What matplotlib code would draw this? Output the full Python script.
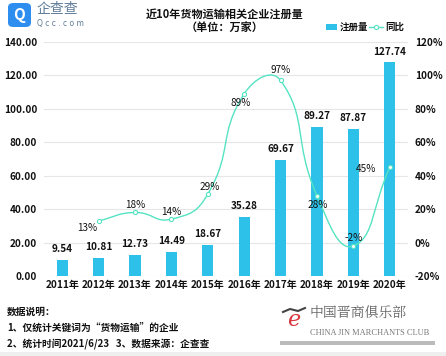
import matplotlib
matplotlib.use("Agg")
import matplotlib.pyplot as plt
import numpy as np
from matplotlib.path import Path
from matplotlib.patches import PathPatch, FancyBboxPatch, Rectangle, Circle

plt.rcParams['font.family'] = ['Noto Sans CJK SC', 'DejaVu Sans']

years = ['2011年', '2012年', '2013年', '2014年', '2015年', '2016年', '2017年', '2018年', '2019年', '2020年']
registrations = [9.54, 10.81, 12.73, 14.49, 18.67, 35.28, 69.67, 89.27, 87.87, 127.74]
yoy_years_idx = [1, 2, 3, 4, 5, 6, 7, 8, 9]
yoy = [13, 18, 14, 29, 89, 97, 28, -2, 45]
left_ticks = [0, 20, 40, 60, 80, 100, 120, 140]
right_ticks = [-20, 0, 20, 40, 60, 80, 100, 120]

W, H = 446, 356
fig = plt.figure(figsize=(W / 100, H / 100), dpi=100)
fig.patch.set_facecolor('white')

ax_l, ax_r, ax_t, ax_b = 44, 408, 42, 276
ax = fig.add_axes([ax_l / W, 1 - ax_b / H, (ax_r - ax_l) / W, (ax_b - ax_t) / H])
ax2 = ax.twinx()

bar_color = '#2DC0E8'
line_color = '#55E3C3'

x = np.arange(len(years))
ax.bar(x, registrations, width=0.31, color=bar_color, zorder=2)
ax.set_xlim(-0.5, len(years) - 0.5)
ax.set_ylim(0, 140)
ax.set_yticks(left_ticks)
ax.set_yticklabels([f'{v:.2f}' for v in left_ticks])
ax.set_xticks(x)
ax.set_xticklabels(years)
ax.grid(axis='y', color='#E6E6E6', linewidth=0.8, zorder=0)
ax.set_axisbelow(True)
for s in ax.spines.values():
    s.set_visible(False)
for s in ax2.spines.values():
    s.set_visible(False)
ax.tick_params(axis='both', length=0, labelsize=7.2, colors='#111111')
ax.tick_params(axis='y', pad=5)
ax.tick_params(axis='x', pad=3)
for lab in ax.get_xticklabels() + ax.get_yticklabels():
    lab.set_fontweight('bold')

for xi, v in zip(x, registrations):
    ax.text(xi, v + 3.5, f'{v:.2f}', ha='center', va='bottom', fontsize=7.2,
            fontweight='bold', color='#111111')

ax2.set_ylim(-20, 120)
ax2.set_yticks(right_ticks)
ax2.set_yticklabels([f'{v}%' for v in right_ticks])
ax2.tick_params(axis='y', length=0, labelsize=7.2, colors='#111111', pad=5)
for lab in ax2.get_yticklabels():
    lab.set_fontweight('bold')

# smooth line (ECharts-like bezier) computed in pixel-proportional space
px_x = (ax_r - ax_l) / len(years)
px_y = (ax_b - ax_t) / 140.0
pts = np.array([[xi * px_x, v * px_y] for xi, v in zip(yoy_years_idx, yoy)])
smooth = 0.5
verts = [tuple(pts[0])]
codes = [Path.MOVETO]
n = len(pts)
cps = []
for i in range(n):
    prev = pts[i - 1] if i > 0 else pts[i]
    nxt = pts[i + 1] if i < n - 1 else pts[i]
    v = nxt - prev
    d0 = np.linalg.norm(pts[i] - prev)
    d1 = np.linalg.norm(nxt - pts[i])
    tot = d0 + d1
    if tot == 0:
        cps.append((pts[i], pts[i]))
        continue
    cp0 = pts[i] - v * smooth * d0 / tot
    cp1 = pts[i] + v * smooth * d1 / tot
    cps.append((cp0, cp1))
for i in range(n - 1):
    verts += [tuple(cps[i][1]), tuple(cps[i + 1][0]), tuple(pts[i + 1])]
    codes += [Path.CURVE4] * 3
verts = np.array(verts)
verts[:, 0] /= px_x
verts[:, 1] /= px_y
path = Path(verts, codes)
ax2.add_patch(PathPatch(path, facecolor='none', edgecolor=line_color, linewidth=1.0, zorder=3))
ax2.plot(yoy_years_idx, yoy, linestyle='none', marker='o', markersize=3,
         markerfacecolor='white', markeredgecolor=line_color, markeredgewidth=0.8, zorder=4)

label_offsets = [(-0.3, -4.5), (0, 4.5), (0, 4.5), (0.05, 4.5), (-0.1, -5.5), (0, 6.5),
                 (0.02, -5.5), (0, 5.0), (-0.65, -1)]
for xi, v, (dx, dy) in zip(yoy_years_idx, yoy, label_offsets):
    ax2.text(xi + dx, v + dy, f'{v}%', ha='center', va='center', fontsize=7.2, color='#111111')

# title
fig.text(225 / W, 1 - 14 / H, '近10年货物运输相关企业注册量', ha='center', va='center',
         fontsize=8, fontweight='bold', color='#111111')
fig.text(225 / W, 1 - 27.5 / H, '（单位：万家）', ha='center', va='center',
         fontsize=8, fontweight='bold', color='#111111')

# legend
fig.patches.append(Rectangle((326 / W, 1 - 30 / H), 11 / W, 6 / H, transform=fig.transFigure,
                             facecolor=bar_color, edgecolor='none'))
fig.text(340 / W, 1 - 27 / H, '注册量', ha='left', va='center', fontsize=6.8,
         fontweight='bold', color='#111111')
fig.add_artist(plt.Line2D([369 / W, 383 / W], [1 - 27 / H, 1 - 27 / H], color=line_color,
                          linewidth=1.0, transform=fig.transFigure))
fig.add_artist(plt.Line2D([376 / W], [1 - 27 / H], marker='o', markersize=3,
                          markerfacecolor='white', markeredgecolor=line_color,
                          markeredgewidth=0.8, transform=fig.transFigure))
fig.text(385 / W, 1 - 27 / H, '同比', ha='left', va='center', fontsize=6.8,
         fontweight='bold', color='#111111')

# logo
fig.patches.append(FancyBboxPatch((8 / W, 1 - 27 / H), 23 / W, 24 / H,
                                  boxstyle='round,pad=0,rounding_size=0.012',
                                  transform=fig.transFigure, facecolor='#2E8EF0',
                                  edgecolor='none'))
fig.text(19.5 / W, 1 - 15 / H, 'Q', ha='center', va='center', fontsize=11,
         fontweight='bold', color='white')
fig.text(37 / W, 1 - 9.5 / H, '企查查', ha='left', va='center', fontsize=10,
         color='#5E7B98')
fig.text(37 / W, 1 - 23.5 / H, 'Q c c . c o m', ha='left', va='center', fontsize=5.5,
         color='#5E7B98', family=['DejaVu Sans'])

# notes
notes = ['数据说明：', '1、仅统计关键词为“货物运输”的企业', '2、统计时间2021/6/23   3、数据来源：企查查']
for yy, t in zip([312, 328, 344], notes):
    fig.text(7 / W, 1 - yy / H, t, ha='left', va='center', fontsize=7, fontweight='bold',
             color='#111111')

# watermark
fig.patches.append(Rectangle((280 / W, 1 - 345 / H), 155 / W, 4 / H, transform=fig.transFigure,
                             facecolor='#BBBBBB', edgecolor='none'))
fig.text(294 / W, 1 - 320 / H, 'e', ha='center', va='center', fontsize=16, color='#D9363E',
         family=['DejaVu Serif'], style='italic')
fig.add_artist(plt.Line2D([283 / W, 290 / W, 298 / W, 305 / W],
                          [1 - 312 / H, 1 - 309 / H, 1 - 311 / H, 1 - 308 / H],
                          color='#444444', linewidth=1.5, transform=fig.transFigure))
fig.text(310 / W, 1 - 313 / H, '中国晋商俱乐部', ha='left', va='center', fontsize=10,
         color='#666666', family=['Noto Serif CJK SC', 'Noto Sans CJK SC'])
fig.text(310 / W, 1 - 333 / H, 'CHINA JIN MARCHANTS CLUB', ha='left', va='center',
         fontsize=6, color='#777777', family=['Liberation Serif'])

# bottom gray band
fig.patches.append(Rectangle((0, 0), 1, 4 / H, transform=fig.transFigure,
                             facecolor='#EFEFEF', edgecolor='none'))

fig.savefig('out.png', dpi=100)
